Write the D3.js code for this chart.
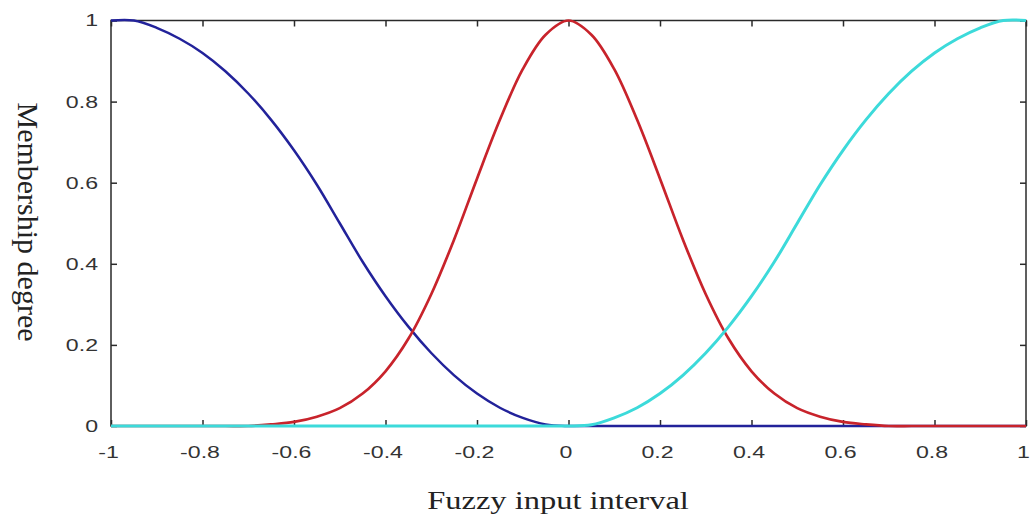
<!DOCTYPE html>
<html>
<head>
<meta charset="utf-8">
<script src="https://cdn.jsdelivr.net/npm/d3@7"></script>
<style>
  html, body { margin: 0; padding: 0; background: #fff; }
  svg { display: block; }
</style>
</head>
<body>
<div id="chart"></div>
<script>
// input points
var xs = [-1, -0.95, -0.9, -0.85, -0.8, -0.75, -0.7, -0.65, -0.6, -0.55, -0.5,
          -0.45, -0.4, -0.35, -0.3, -0.25, -0.2, -0.15, -0.1, -0.05, 0,
          0.05, 0.1, 0.15, 0.2, 0.25, 0.3, 0.35, 0.4, 0.45, 0.5,
          0.55, 0.6, 0.65, 0.7, 0.75, 0.8, 0.85, 0.9, 0.95, 1];

var negative = [1, 1, 0.982, 0.955, 0.92, 0.875, 0.82, 0.755, 0.68, 0.595, 0.5,
                0.405, 0.32, 0.245, 0.18, 0.125, 0.08, 0.045, 0.02, 0.004, 0,
                0, 0, 0, 0, 0, 0, 0, 0, 0, 0,
                0, 0, 0, 0, 0, 0, 0, 0, 0, 0];

var zero = [0, 0, 0, 0, 0, 0, 0, 0.004, 0.01, 0.023, 0.044,
            0.08, 0.135, 0.215, 0.325, 0.46, 0.61, 0.755, 0.88, 0.965, 1,
            0.965, 0.88, 0.755, 0.61, 0.46, 0.325, 0.215, 0.135, 0.08, 0.044,
            0.023, 0.01, 0.004, 0, 0, 0, 0, 0, 0, 0];

var positive = [0, 0, 0, 0, 0, 0, 0, 0, 0, 0, 0,
                0, 0, 0, 0, 0, 0, 0, 0, 0, 0,
                0.003, 0.02, 0.045, 0.08, 0.125, 0.18, 0.245, 0.32, 0.405, 0.5,
                0.595, 0.68, 0.755, 0.82, 0.875, 0.92, 0.955, 0.982, 1, 1];

var xTicks = [-1, -0.8, -0.6, -0.4, -0.2, 0, 0.2, 0.4, 0.6, 0.8, 1];
var yTicks = [0, 0.2, 0.4, 0.6, 0.8, 1];

var w = 1033, h = 517;
var plotLeft = 111, plotRight = 1026, plotTop = 20.5, plotBottom = 426;

var svg = d3.select("#chart").append("svg")
  .attr("width", w)
  .attr("height", h);

var x = d3.scaleLinear().domain([-1, 1]).range([plotLeft, plotRight]);
var y = d3.scaleLinear().domain([0, 1]).range([plotBottom, plotTop]);

var fmt = function(d) { return d3.format("")(d).replace("−", "-"); };

// box
svg.append("rect")
  .attr("x", plotLeft).attr("y", plotTop)
  .attr("width", plotRight - plotLeft).attr("height", plotBottom - plotTop)
  .attr("fill", "none").attr("stroke", "#2a2a2a").attr("stroke-width", 1.5);

var xAxis = svg.append("g")
  .attr("transform", "translate(0," + plotBottom + ")")
  .call(d3.axisBottom(x).tickValues(xTicks).tickSize(-6).tickSizeOuter(0).tickPadding(20).tickFormat(fmt));

var xTop = svg.append("g")
  .attr("transform", "translate(0," + plotTop + ")")
  .call(d3.axisTop(x).tickValues(xTicks).tickSize(-6).tickSizeOuter(0).tickFormat(""));

var yAxis = svg.append("g")
  .attr("transform", "translate(" + plotLeft + ",0)")
  .call(d3.axisLeft(y).tickValues(yTicks).tickSize(-6).tickSizeOuter(0).tickPadding(13).tickFormat(fmt));

var yRight = svg.append("g")
  .attr("transform", "translate(" + plotRight + ",0)")
  .call(d3.axisRight(y).tickValues(yTicks).tickSize(-6).tickSizeOuter(0).tickFormat(""));

svg.selectAll(".domain").remove();
svg.selectAll(".tick line").attr("stroke", "#2a2a2a").attr("stroke-width", 1.5);

svg.selectAll(".tick text")
  .attr("fill", "#333")
  .style("font-family", "'Liberation Sans', Arial, sans-serif")
  .style("font-size", "17px");

xAxis.selectAll(".tick text")
  .attr("transform", "translate(-3,0) scale(1.36,1)");
yAxis.selectAll(".tick text")
  .attr("transform", "scale(1.36,1)")
  .attr("x", -13 / 1.36);

// curves
var line = d3.line()
  .x(function(d) { return x(d[0]); })
  .y(function(d) { return y(d[1]); })
  .curve(d3.curveCatmullRom.alpha(0.5));

var series = [
  { name: "negative", values: negative, color: "#22229a", width: 2.5 },
  { name: "zero", values: zero, color: "#c8232b", width: 2.7 },
  { name: "positive", values: positive, color: "#3cdada", width: 3 }
];

series.forEach(function(s) {
  svg.append("path")
    .datum(xs.map(function(v, i) { return [v, s.values[i]]; }))
    .attr("d", line)
    .attr("fill", "none")
    .attr("stroke", s.color)
    .attr("stroke-width", s.width)
    .attr("stroke-linejoin", "round");
});

// axis titles
svg.append("text")
  .attr("transform", "translate(558,509) scale(1.25,1)")
  .attr("text-anchor", "middle")
  .style("font-family", "'Liberation Serif', 'Times New Roman', serif")
  .style("font-size", "26px")
  .attr("fill", "#222")
  .text("Fuzzy input interval");

svg.append("text")
  .attr("transform", "translate(18,222) rotate(90)")
  .attr("text-anchor", "middle")
  .style("font-family", "'Liberation Serif', 'Times New Roman', serif")
  .style("font-size", "30px")
  .attr("fill", "#222")
  .text("Membership degree");
</script>
</body>
</html>
